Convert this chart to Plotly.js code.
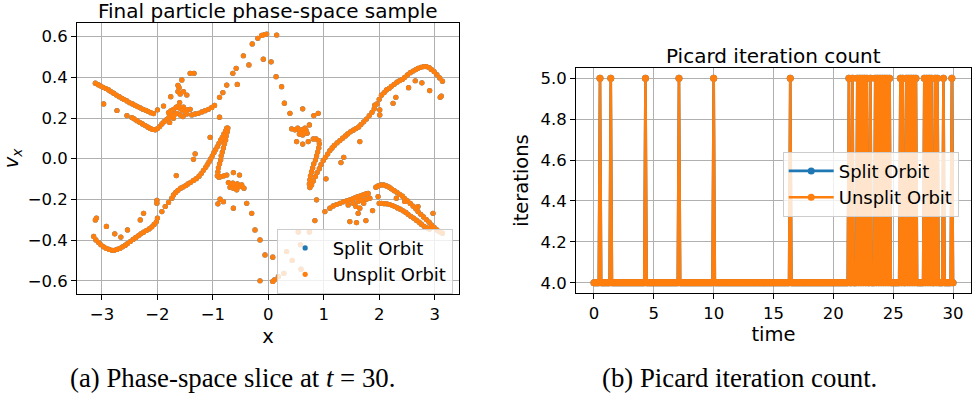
<!DOCTYPE html>
<html>
<head>
<meta charset="utf-8">
<script src="https://cdn.plot.ly/plotly-3.0.1.min.js"></script>
<style>
html,body{margin:0;padding:0;background:#ffffff;}
#chart{width:979px;height:395px;}
</style>
</head>
<body>
<div id="chart"></div>
<script>
// ---------- (a) final particle phase-space sample (x, v_x) ----------
const phaseX = [
  // upper-left descending filament
  -3.12,-3.07,-3.03,-2.98,-2.93,-2.88,-2.84,-2.79,-2.74,-2.69,-2.64,-2.60,-2.55,-2.50,-2.45,-2.40,-2.36,-2.31,-2.26,-2.21,-2.17,-2.12,-2.07,
  // its lower branch
  -2.97,-2.73,-2.55,-2.46,-2.42,-2.37,-2.32,-2.27,-2.22,-2.17,-2.13,-2.09,-2.04,-2.00,-1.96,
  // cluster around x=-1.6
  -1.92,-1.88,-1.83,-1.79,-1.74,
  -2.00,-1.89,-1.78,-1.71,-1.76,-1.63,-1.61,-1.56,-1.63,-1.59,-1.53,-1.47,-1.60,-1.41,-1.34,-1.41,
  -1.80,-1.76,-1.71,-1.66,-1.62,-1.59,-1.56,-1.53,-1.50,-1.47,-1.65,-1.70,-1.59,-1.54,-1.46,-1.38,-1.32,-1.26,
  -1.20,-1.14,-1.08,-1.02,-0.97,-0.88,
  // arm up to the peak
  -0.88,-0.82,-0.75,-0.64,-0.58,-0.45,-0.29,-0.19,-0.12,-0.07,-0.03,-0.56,-0.35,-0.09,0.05,-1.05,-1.32,-1.35,
  // descent right of the peak
  0.15,0.14,0.24,0.29,0.39,0.42,0.51,0.62,0.72,0.62,0.82,0.90,0.74,
  0.48,0.53,0.57,0.60,0.64,0.68,0.70,0.56,0.62,0.66,
  // right hook and rising filament
  0.81,0.86,0.91,0.92,0.91,0.89,0.87,0.85,0.82,0.80,0.78,0.76,0.75,0.74,0.75,0.78,0.81,0.85,0.88,0.92,
  0.95,0.99,1.03,1.07,1.11,1.15,1.19,1.24,1.29,1.34,1.39,1.43,1.48,1.53,1.58,1.63,1.67,1.72,1.77,1.82,
  1.87,1.91,1.96,2.00,2.04,2.09,2.13,2.18,2.22,2.27,2.32,2.37,2.42,2.46,2.51,2.56,2.61,2.66,2.70,2.75,
  2.80,2.85,2.90,2.94,2.99,3.04,3.09,3.14,
  2.01,2.01,1.92,2.25,2.30,2.53,2.65,2.77,2.91,3.10,3.12,1.65,1.36,1.31,1.04,
  // lower-left filament and left hook
  -3.15,-3.11,-3.06,-3.02,-2.97,-2.92,-2.87,-2.82,-2.78,-2.73,-2.68,-2.63,-2.58,-2.54,-2.49,-2.44,-2.39,-2.34,-2.30,-2.25,-2.20,-2.15,-2.10,-2.06,-2.02,
  -2.00,-1.92,-1.86,-1.80,-1.74,
  -1.71,-1.67,-1.63,-1.58,-1.54,-1.49,-1.45,-1.40,-1.35,-1.30,-1.25,-1.21,-1.17,-1.13,-1.10,-1.07,-1.04,-1.01,-0.98,-0.95,
  -0.92,-0.89,-0.86,-0.83,-0.80,-0.77,-0.75,-0.73,-0.74,-0.76,-0.77,-0.79,-0.81,-0.83,-0.85,-0.86,-0.88,-0.90,-0.91,-0.92,
  -0.89,-0.85,-0.80,
  -0.75,-0.63,-0.52,
  -3.12,-3.10,-2.92,-2.77,-2.66,-2.54,-2.31,-2.25,-2.01,-2.01,-1.66,
  // cluster under the left hook and descent to the trough
  -0.72,-0.68,-0.64,-0.60,-0.56,-0.52,-0.48,-0.44,-0.63,-0.57,-0.69,
  -0.87,-0.91,-0.81,-0.63,-0.39,-0.30,-0.24,-0.15,-0.06,0.08,-0.15,0.08,0.11,
  0.54,0.74,0.33,0.28,0.43,0.58,0.59,0.18,
  // cluster around x=1.5
  0.87,0.84,1.02,1.11,1.17,1.23,1.29,1.35,1.41,1.47,1.52,1.56,1.61,1.66,1.71,1.76,1.80,1.53,1.58,1.62,
  1.68,1.72,1.77,1.44,1.65,1.83,1.47,1.59,1.76,1.62,1.88,1.98,2.00,
  // lower-right filaments
  1.94,1.98,2.03,2.08,2.13,2.18,2.22,2.27,2.32,2.37,2.42,2.46,2.51,2.56,2.61,2.66,2.70,2.75,2.80,2.85,2.90,2.94,2.99,3.04,3.09,3.14,
  2.04,2.09,2.14,2.19,2.24,2.28,2.33,2.38,2.43,2.48,2.52,2.57,2.62,2.67,2.72,2.76,2.81,2.86,2.91,
  2.97,2.70,2.46,2.31
];
const phaseV = [
  0.371,0.364,0.358,0.351,0.345,0.338,0.330,0.322,0.313,0.305,0.297,0.291,0.284,0.275,0.269,0.262,0.256,0.250,0.243,0.238,0.233,0.226,0.222,
  0.269,0.237,0.212,0.202,0.196,0.187,0.179,0.171,0.163,0.155,0.149,0.144,0.142,0.148,0.158,
  0.171,0.182,0.194,0.204,0.212,
  0.240,0.259,0.178,0.199,0.305,0.361,0.349,0.387,0.330,0.318,0.330,0.313,0.276,0.420,0.420,0.243,
  0.227,0.235,0.243,0.253,0.259,0.248,0.240,0.253,0.232,0.220,0.223,0.215,0.215,0.207,0.240,0.215,0.220,0.223,
  0.230,0.236,0.243,0.252,0.262,0.204,
  0.302,0.325,0.362,0.420,0.444,0.506,0.564,0.592,0.606,0.610,0.613,0.365,0.461,0.489,0.476,0.105,0.024,-0.003,
  0.608,0.403,0.354,0.273,0.223,0.147,0.084,0.072,0.084,0.245,0.212,0.223,0.166,
  0.142,0.150,0.134,0.142,0.129,0.139,0.125,0.121,0.117,0.150,
  0.097,0.097,0.089,0.073,0.053,0.033,0.014,-0.006,-0.025,-0.045,-0.064,-0.084,-0.104,-0.124,-0.142,-0.129,-0.109,-0.088,-0.068,-0.049,
  -0.029,-0.009,0.007,0.023,0.040,0.053,0.065,0.078,0.089,0.101,0.112,0.122,0.132,0.140,0.148,0.156,0.168,0.181,0.195,0.212,
  0.228,0.246,0.269,0.292,0.312,0.325,0.338,0.346,0.356,0.366,0.376,0.384,0.390,0.400,0.412,0.423,0.431,0.438,0.444,0.449,
  0.453,0.453,0.448,0.439,0.428,0.413,0.397,0.381,
  0.240,0.215,0.264,0.272,0.302,0.349,0.383,0.373,0.335,0.302,0.308,0.084,0.007,-0.019,-0.099,
  -0.382,-0.399,-0.412,-0.423,-0.433,-0.441,-0.446,-0.450,-0.450,-0.446,-0.441,-0.433,-0.425,-0.417,-0.407,-0.397,-0.387,-0.378,-0.369,-0.361,-0.353,-0.345,-0.335,-0.323,-0.310,
  -0.292,-0.260,-0.235,-0.215,-0.194,
  -0.178,-0.166,-0.155,-0.145,-0.139,-0.132,-0.124,-0.116,-0.107,-0.098,-0.086,-0.073,-0.057,-0.042,-0.029,-0.016,-0.001,0.014,0.031,0.045,
  0.060,0.076,0.091,0.105,0.122,0.137,0.150,0.151,0.133,0.112,0.092,0.073,0.053,0.033,0.014,-0.006,-0.025,-0.045,-0.065,-0.084,
  -0.091,-0.088,-0.084,
  -0.080,-0.068,-0.080,
  -0.301,-0.292,-0.333,-0.369,-0.385,-0.350,-0.301,-0.268,-0.219,-0.205,-0.083,
  -0.117,-0.129,-0.120,-0.132,-0.124,-0.137,-0.129,-0.145,-0.145,-0.153,-0.140,
  -0.199,-0.222,-0.211,-0.243,-0.219,-0.268,-0.350,-0.399,-0.473,-0.484,-0.600,-0.603,-0.595,
  -0.360,-0.360,-0.456,-0.563,-0.500,-0.423,-0.543,-0.580,
  -0.202,-0.304,-0.260,-0.243,-0.232,-0.225,-0.219,-0.212,-0.207,-0.202,-0.197,-0.192,-0.186,-0.183,-0.178,-0.173,-0.170,-0.219,-0.235,-0.210,
  -0.202,-0.219,-0.199,-0.227,-0.243,-0.194,-0.309,-0.314,-0.304,-0.268,-0.255,-0.186,-0.219,
  -0.140,-0.134,-0.129,-0.129,-0.134,-0.140,-0.148,-0.157,-0.165,-0.175,-0.184,-0.196,-0.207,-0.220,-0.233,-0.246,-0.260,-0.273,-0.286,-0.299,-0.312,-0.325,-0.338,-0.350,-0.359,-0.366,
  -0.219,-0.221,-0.222,-0.225,-0.230,-0.235,-0.242,-0.248,-0.256,-0.264,-0.273,-0.283,-0.292,-0.302,-0.312,-0.322,-0.332,-0.340,-0.346,
  -0.268,-0.235,-0.210,-0.194
];

// ---------- (b) Picard iteration count per time step ----------
const timeSteps = [
  0.0,0.1,0.2,0.3,0.4,0.5,0.6,0.7,0.8,0.9,1.0,1.1,1.2,1.3,1.4,1.5,1.6,1.7,1.8,1.9,
  2.0,2.1,2.2,2.3,2.4,2.5,2.6,2.7,2.8,2.9,3.0,3.1,3.2,3.3,3.4,3.5,3.6,3.7,3.8,3.9,
  4.0,4.1,4.2,4.3,4.4,4.5,4.6,4.7,4.8,4.9,5.0,5.1,5.2,5.3,5.4,5.5,5.6,5.7,5.8,5.9,
  6.0,6.1,6.2,6.3,6.4,6.5,6.6,6.7,6.8,6.9,7.0,7.1,7.2,7.3,7.4,7.5,7.6,7.7,7.8,7.9,
  8.0,8.1,8.2,8.3,8.4,8.5,8.6,8.7,8.8,8.9,9.0,9.1,9.2,9.3,9.4,9.5,9.6,9.7,9.8,9.9,
  10.0,10.1,10.2,10.3,10.4,10.5,10.6,10.7,10.8,10.9,11.0,11.1,11.2,11.3,11.4,11.5,11.6,11.7,11.8,11.9,
  12.0,12.1,12.2,12.3,12.4,12.5,12.6,12.7,12.8,12.9,13.0,13.1,13.2,13.3,13.4,13.5,13.6,13.7,13.8,13.9,
  14.0,14.1,14.2,14.3,14.4,14.5,14.6,14.7,14.8,14.9,15.0,15.1,15.2,15.3,15.4,15.5,15.6,15.7,15.8,15.9,
  16.0,16.1,16.2,16.3,16.4,16.5,16.6,16.7,16.8,16.9,17.0,17.1,17.2,17.3,17.4,17.5,17.6,17.7,17.8,17.9,
  18.0,18.1,18.2,18.3,18.4,18.5,18.6,18.7,18.8,18.9,19.0,19.1,19.2,19.3,19.4,19.5,19.6,19.7,19.8,19.9,
  20.0,20.1,20.2,20.3,20.4,20.5,20.6,20.7,20.8,20.9,21.0,21.1,21.2,21.3,21.4,21.5,21.6,21.7,21.8,21.9,
  22.0,22.1,22.2,22.3,22.4,22.5,22.6,22.7,22.8,22.9,23.0,23.1,23.2,23.3,23.4,23.5,23.6,23.7,23.8,23.9,
  24.0,24.1,24.2,24.3,24.4,24.5,24.6,24.7,24.8,24.9,25.0,25.1,25.2,25.3,25.4,25.5,25.6,25.7,25.8,25.9,
  26.0,26.1,26.2,26.3,26.4,26.5,26.6,26.7,26.8,26.9,27.0,27.1,27.2,27.3,27.4,27.5,27.6,27.7,27.8,27.9,
  28.0,28.1,28.2,28.3,28.4,28.5,28.6,28.7,28.8,28.9,29.0,29.1,29.2,29.3,29.4,29.5,29.6,29.7,29.8,29.9,
  30.0
];
const picardIters = [
  4,4,4,4,4,5,4,4,4,4, 4,4,4,4,5,4,4,4,4,4,
  4,4,4,4,4,4,4,4,4,4, 4,4,4,4,4,4,4,4,4,4,
  4,4,4,5,4,4,4,4,4,4, 4,4,4,4,4,4,4,4,4,4,
  4,4,4,4,4,4,4,4,4,4, 4,5,4,4,4,4,4,4,4,4,
  4,4,4,4,4,4,4,4,4,4, 4,4,4,4,4,4,4,4,4,4,
  5,4,4,4,4,4,4,4,4,4, 4,4,4,4,4,4,4,4,4,4,
  4,4,4,4,4,4,4,4,4,4, 4,4,4,4,4,4,4,4,4,4,
  4,4,4,4,4,4,4,4,4,4, 4,4,4,4,4,4,4,4,4,4,
  4,4,4,4,5,4,4,4,4,4, 4,4,4,4,4,4,4,4,4,4,
  4,4,4,4,4,4,4,4,4,4, 4,4,4,4,4,4,4,4,4,4,
  4,4,4,4,4,4,4,4,4,4, 4,4,4,5,4,4,5,4,4,4,
  5,4,5,4,5,4,5,4,5,4, 4,5,4,4,4,5,4,5,4,5,
  4,5,4,5,4,5,4,5,4,4, 4,4,4,4,4,4,5,4,5,4,
  4,5,4,5,4,5,4,5,4,5, 4,4,4,4,4,4,5,4,5,4,
  5,4,5,4,4,5,4,5,4,4, 4,4,5,4,4,4,4,4,4,5,
  4
];

const seriesNames = ['Split Orbit', 'Unsplit Orbit'];
const seriesColors = ['#1f77b4', '#ff7f0e'];

const phaseXTicks = [-3, -2, -1, 0, 1, 2, 3];
const phaseXTickText = ['\u22123', '\u22122', '\u22121', '0', '1', '2', '3'];
const phaseVTicks = [-0.6, -0.4, -0.2, 0, 0.2, 0.4, 0.6];
const phaseVTickText = ['\u22120.6', '\u22120.4', '\u22120.2', '0.0', '0.2', '0.4', '0.6'];
const timeTicks = [0, 5, 10, 15, 20, 25, 30];
const iterTicks = [4.0, 4.2, 4.4, 4.6, 4.8, 5.0];
const iterTickText = ['4.0', '4.2', '4.4', '4.6', '4.8', '5.0'];

const SANS = 'DejaVu Sans, sans-serif';
const SERIF = 'Liberation Serif, serif';

const traces = [
  { type: 'scatter', mode: 'markers', x: phaseX, y: phaseV, xaxis: 'x', yaxis: 'y',
    name: seriesNames[0], legend: 'legend',
    marker: { color: seriesColors[0], size: 5.2, line: { width: 0 } } },
  { type: 'scatter', mode: 'markers', x: phaseX, y: phaseV, xaxis: 'x', yaxis: 'y',
    name: seriesNames[1], legend: 'legend',
    marker: { color: seriesColors[1], size: 5.2, line: { width: 0 } } },
  { type: 'scatter', mode: 'lines+markers', x: timeSteps, y: picardIters, xaxis: 'x2', yaxis: 'y2',
    name: seriesNames[0], legend: 'legend2',
    line: { color: seriesColors[0], width: 2.6, simplify: false }, marker: { color: seriesColors[0], size: 7 } },
  { type: 'scatter', mode: 'lines+markers', x: timeSteps, y: picardIters, xaxis: 'x2', yaxis: 'y2',
    name: seriesNames[1], legend: 'legend2',
    line: { color: seriesColors[1], width: 2.6, simplify: false }, marker: { color: seriesColors[1], size: 7 } }
];

function axisBase() {
  return {
    showline: true, mirror: true, linecolor: '#000', linewidth: 1,
    ticks: 'outside', ticklen: 5, tickwidth: 1, tickcolor: '#000',
    showgrid: true, gridcolor: '#b0b0b0', gridwidth: 1, zeroline: false,
    tickfont: { family: SANS, size: 16.5, color: '#000' },
    automargin: false, fixedrange: true
  };
}
const titleFont = { family: SANS, size: 19.5, color: '#000' };

const legendBase = {
  bgcolor: 'rgba(255,255,255,0.8)', bordercolor: '#cccccc', borderwidth: 1,
  font: { family: SANS, size: 18, color: '#000' },
  xanchor: 'left', yanchor: 'top', xref: 'paper', yref: 'paper', itemwidth: 45,
  tracegroupgap: 0
};

const layout = {
  width: 979, height: 395,
  margin: { l: 0, r: 0, t: 0, b: 0 },
  paper_bgcolor: '#ffffff', plot_bgcolor: '#ffffff',
  showlegend: true, hovermode: false,
  xaxis: Object.assign(axisBase(), {
    domain: [0.0787, 0.4689], range: [-3.45, 3.44], anchor: 'y',
    tickvals: phaseXTicks, ticktext: phaseXTickText,
    title: { text: 'x', font: titleFont, standoff: 6 }
  }),
  yaxis: Object.assign(axisBase(), {
    domain: [0.2557, 0.9418], range: [-0.665, 0.667], anchor: 'x',
    tickvals: phaseVTicks, ticktext: phaseVTickText,
    title: { text: '<i>v</i><sub><i>x</i></sub>', font: titleFont, standoff: 8 }
  }),
  xaxis2: Object.assign(axisBase(), {
    domain: [0.5884, 0.9918], range: [-1.5, 31.5], anchor: 'y2',
    tickvals: timeTicks,
    title: { text: 'time', font: titleFont, standoff: 4 }
  }),
  yaxis2: Object.assign(axisBase(), {
    domain: [0.2582, 0.8278], range: [3.95, 5.05], anchor: 'x2',
    tickvals: iterTicks, ticktext: iterTickText,
    title: { text: 'iterations', font: titleFont, standoff: 6 }
  }),
  legend: Object.assign({}, legendBase, { x: 0.2826, y: 0.421 }),
  legend2: Object.assign({}, legendBase, { x: 0.7995, y: 0.616 }),
  annotations: [
    { text: 'Final particle phase-space sample', x: 0.2738, y: 0.9734, xref: 'paper', yref: 'paper',
      xanchor: 'center', yanchor: 'middle', showarrow: false, font: { family: SANS, size: 20, color: '#000' } },
    { text: 'Picard iteration count', x: 0.7903, y: 0.859, xref: 'paper', yref: 'paper',
      xanchor: 'center', yanchor: 'middle', showarrow: false, font: { family: SANS, size: 20, color: '#000' } },
    { text: '(a) Phase-space slice at <i>t</i> = 30.', x: 0.2375, y: 0.043, xref: 'paper', yref: 'paper',
      xanchor: 'center', yanchor: 'middle', showarrow: false, font: { family: SERIF, size: 26.8, color: '#000' } },
    { text: '(b) Picard iteration count.', x: 0.7554, y: 0.043, xref: 'paper', yref: 'paper',
      xanchor: 'center', yanchor: 'middle', showarrow: false, font: { family: SERIF, size: 26.8, color: '#000' } }
  ]
};

Plotly.newPlot('chart', traces, layout, { staticPlot: true, displayModeBar: false });
</script>
</body>
</html>
